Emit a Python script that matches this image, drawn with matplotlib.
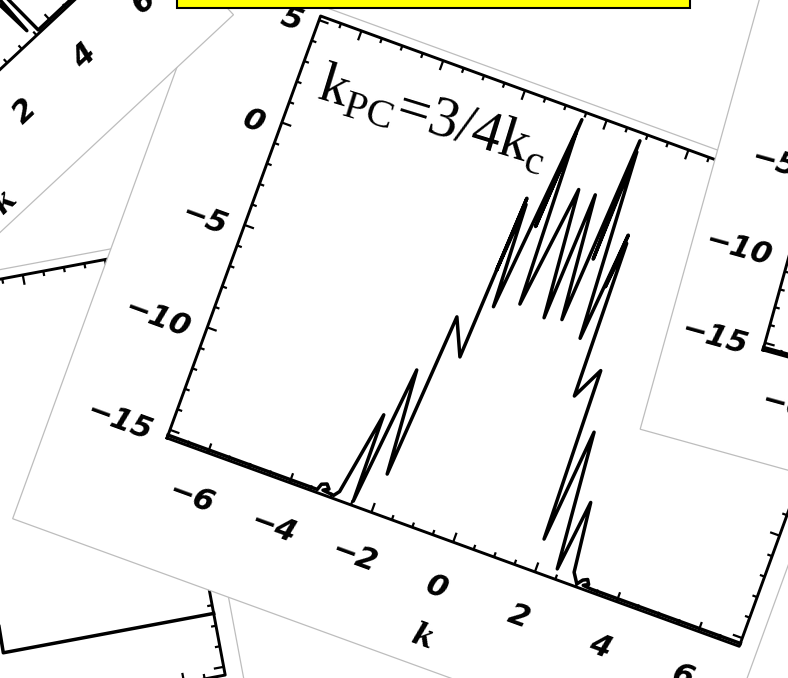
import numpy as np
import matplotlib.pyplot as plt
from matplotlib.transforms import Affine2D
from matplotlib.patches import Polygon, Rectangle
from matplotlib.collections import LineCollection

plt.rcParams['mathtext.fontset'] = 'custom'
plt.rcParams['mathtext.rm'] = 'Liberation Serif'

# log spectrum for k_PC = 3/4 k_c (front page)
k_main = [-7.00, -3.35, -3.30, -3.18, -3.10, -3.22, -2.95, -2.85, -2.50, -2.48,
          -2.14, -1.96, -1.69, -1.31, -1.11, -1.20, -1.08, -0.98, -0.54, -0.70,
          -0.56, -0.43, -0.06, 0.20, 0.34, 0.60, 0.88, 0.80, 0.90, 1.14,
          1.37, 1.28, 1.40, 1.47, 1.84, 1.94, 2.18, 2.46, 2.66, 2.85,
          3.00, 3.10, 3.20, 3.26, 3.15, 3.35, 7.00]
p_main = [-15.26, -15.26, -14.97, -14.87, -15.06, -15.20, -15.26, -15.00, -11.00, -15.20,
          -8.55, -13.50, -5.63, -7.31, 0.58, -3.00, 0.30, -4.62, 4.83, -0.50,
          4.20, -4.09, 1.77, -4.30, 1.80, -4.10, 4.83, -1.00, 4.30, -4.62,
          0.58, -2.00, 0.20, -7.20, -5.69, -13.84, -8.45, -14.92, -11.53, -14.80,
          -15.26, -15.00, -14.90, -15.10, -15.22, -15.26, -15.26]

# spectra on the pages behind
k_tl = [-7.0, -3.6, -3.3, -2.9, -1.0, -0.6, 0.9, 1.5, 2.4, 3.15, 3.40, 3.52, 3.62, 7.0]
p_tl = [-15.26, -15.26, -10.5, -13.0, 1.0, 4.5, 4.5, -2.0, -5.0, -6.5, -14.9, -8.0, -15.26, -15.26]

k_bl = [-7.0, -2.1, -1.7, -0.9, -0.4, 0.5, 1.0, 1.6, 1.95, 1.88, 7.0]
p_bl = [-12.4, -12.4, -6.0, -9.0, 3.5, 3.5, -2.0, -8.5, -6.0, -12.4, -12.4]

k_rt = [-7.0, -2.6, -2.2, -1.5, -0.8, -0.3, 0.6, 1.2, 1.9, 2.5, 7.0]
p_rt = [-15.26, -15.26, -9.0, -4.0, 3.0, -1.0, 3.0, -4.0, -9.0, -15.26, -15.26]

x_major = [-6, -4, -2, 0, 2, 4, 6]
y_major = [-15, -10, -5, 0, 5]

XLIM = (-7.0, 7.0)
YLIM = (-15.4, 5.2)
PAGE_X = (-9.7, 7.42)
PAGE_Y = (-21.3, 5.65)
W, H = 788, 678


def lab(v):
    return str(v) if v >= 0 else '\u2212' + str(-v)


def on_canvas(tr, x, y, pad=30):
    px, py = tr.transform((x, y))
    return -pad < px < W + pad and -pad < py < H + pad


def panel(ax, x0, y0, angle, sx, sy, k, p, z, fs=22):
    # (XLIM[0], YLIM[0]) lands on (x0, y0); angle > 0 turns the sheet counter-clockwise
    tr = (Affine2D().translate(-XLIM[0], -YLIM[0]).scale(sx, -sy)
          .rotate_deg(-angle).translate(x0, y0) + ax.transData)

    page = Polygon([(PAGE_X[0], PAGE_Y[0]), (PAGE_X[1], PAGE_Y[0]),
                    (PAGE_X[1], PAGE_Y[1]), (PAGE_X[0], PAGE_Y[1])],
                   closed=True, fc='white', ec='#bdbdbd', lw=0.9,
                   transform=tr, zorder=z)
    ax.add_patch(page)

    # frame
    ax.plot([XLIM[0], XLIM[1], XLIM[1], XLIM[0], XLIM[0]],
            [YLIM[0], YLIM[0], YLIM[1], YLIM[1], YLIM[0]],
            color='black', lw=2.1, transform=tr, zorder=z + 0.2)

    # inward ticks on all four sides
    segs = []
    for xt in np.arange(-6.5, 6.6, 0.5):
        L = (10 if xt in x_major else 5) / sy
        segs.append([(xt, YLIM[0]), (xt, YLIM[0] + L)])
        segs.append([(xt, YLIM[1]), (xt, YLIM[1] - L)])
    for yt in range(-15, 6):
        L = (10 if yt in y_major else 5) / sx
        segs.append([(XLIM[0], yt), (XLIM[0] + L, yt)])
        segs.append([(XLIM[1], yt), (XLIM[1] - L, yt)])
    ax.add_collection(LineCollection(segs, colors='black', linewidths=1.6,
                                     transform=tr, zorder=z + 0.2))

    ax.plot(k, p, color='black', lw=2.5, transform=tr, zorder=z + 0.3,
            solid_joinstyle='round')

    style = dict(transform=tr, rotation=angle, rotation_mode='anchor',
                 fontsize=fs, style='italic', weight='bold', zorder=z + 0.4)
    for xt in x_major:
        ty = YLIM[0] - 48 / sy
        if on_canvas(tr, xt, ty):
            ax.text(xt, ty, lab(xt), ha='center', va='center', **style)
    for yt in y_major:
        tx, ty = XLIM[0] - 16 / sx, yt - 9 / sy
        if on_canvas(tr, tx, ty, pad=60):
            ax.text(tx, ty, lab(yt), ha='right', va='center', **style)
    if on_canvas(tr, 0.1, YLIM[0] - 100 / sy):
        ax.text(0.1, YLIM[0] - 100 / sy, 'k', ha='center', va='center',
                family='DejaVu Serif', **style)
    return tr


fig = plt.figure(figsize=(W / 100, H / 100), dpi=100)
ax = fig.add_axes([0, 0, 1, 1])
ax.set_xlim(0, W)
ax.set_ylim(H, 0)
ax.axis('off')

panel(ax, -350, 782.7, 10.6, 41.8, 20.9, k_bl, p_bl, 1)
tr_main = panel(ax, 167, 438, -20, 43.5, 21.8, k_main, p_main, 3)
ax.text(-6.48, 1.62, r'k$_{\mathregular{PC}}$=3/4k$_{\mathregular{c}}$',
        transform=tr_main, rotation=-17, rotation_mode='anchor',
        ha='left', va='baseline', fontsize=42, family='Liberation Serif', zorder=3.5)
panel(ax, -272.8, 323.9, 43, 40.3, 20.2, k_tl, p_tl, 5)
panel(ax, 763, 350, -15.5, 36, 18.5, k_rt, p_rt, 7)

ax.add_patch(Rectangle((177, -10), 513, 18, fc='#ffff00', ec='black', lw=1.5, zorder=9))

fig.savefig('out.png', dpi=100)
